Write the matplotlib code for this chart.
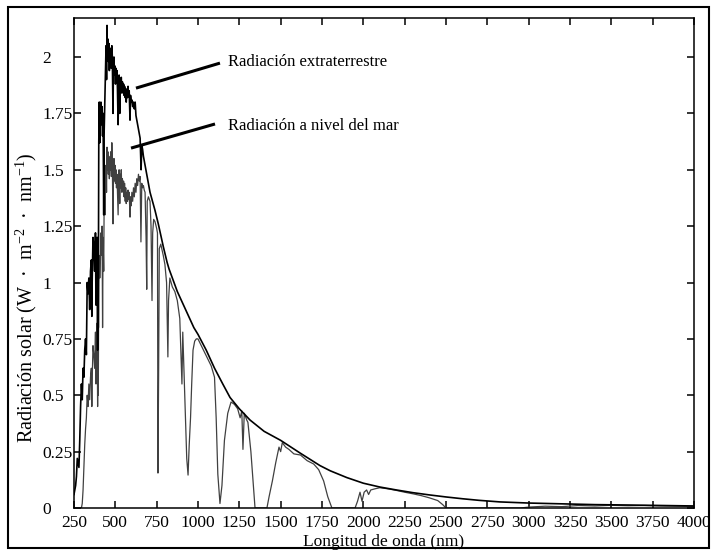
import numpy as np
import matplotlib.pyplot as plt
from matplotlib.patches import Rectangle

plt.rcParams['font.family'] = ['Liberation Serif', 'DejaVu Serif']
plt.rcParams['mathtext.fontset'] = 'custom'
plt.rcParams['mathtext.rm'] = 'Liberation Serif'

# Extraterrestrial spectrum
wl_ext = [250, 255, 260, 265, 270, 275, 280, 285, 290, 295, 300, 305, 310, 315, 320,
          325, 330, 335, 340, 345, 350, 355, 358, 360, 365, 370, 375, 380, 383, 385,
          390, 393, 395, 397, 400, 403, 406, 410, 413, 416, 420, 423, 426, 430, 432,
          435, 438, 441, 444, 447, 450, 452, 455, 458, 461, 464, 467, 470, 473, 476,
          479, 482, 486, 489, 492, 495, 498, 501, 504, 507, 510, 513, 517, 520, 523,
          527, 530, 533, 536, 540, 543, 546, 550, 553, 556, 560, 563, 566, 570, 574,
          577, 580, 584, 589, 592, 596, 600, 605, 610, 615, 620, 625, 630, 635, 640,
          645, 650, 656, 660, 665, 670, 675, 680, 690, 700, 710, 725, 740, 750, 760,
          775, 790, 800, 813, 825, 850, 875, 900, 925, 950, 975, 1000, 1050, 1100, 1150,
          1194, 1250, 1315, 1400, 1500, 1617, 1738, 1800, 1900, 2000, 2100, 2200, 2300,
          2400, 2500, 2600, 2700, 2826, 3000, 3232, 3400, 3631, 3800, 4000]
val_ext = [0.06, 0.08, 0.10, 0.14, 0.22, 0.20, 0.18, 0.30, 0.45, 0.55, 0.48, 0.62, 0.58, 0.70, 0.75,
           0.68, 1.00, 0.95, 1.02, 0.88, 1.05, 1.10, 0.85, 1.00, 1.20, 1.15, 1.05, 1.22, 0.90, 1.05,
           1.20, 0.70, 1.10, 0.80, 1.62, 1.80, 1.62, 1.72, 1.80, 1.70, 1.78, 1.65, 1.75, 1.30, 1.65,
           1.75, 1.85, 1.95, 2.05, 1.90, 2.14, 2.00, 2.08, 1.98, 2.06, 1.94, 2.04, 1.98, 2.03, 1.95,
           2.05, 2.00, 1.75, 1.98, 2.00, 1.92, 1.96, 1.88, 1.95, 1.90, 1.94, 1.86, 1.70, 1.88, 1.92,
           1.75, 1.90, 1.86, 1.91, 1.84, 1.89, 1.85, 1.88, 1.83, 1.87, 1.82, 1.86, 1.80, 1.85, 1.82,
           1.87, 1.83, 1.85, 1.72, 1.83, 1.80, 1.81, 1.78, 1.80, 1.77, 1.80, 1.74, 1.72, 1.70, 1.68,
           1.66, 1.64, 1.50, 1.61, 1.59, 1.56, 1.54, 1.52, 1.48, 1.44, 1.40, 1.36, 1.32, 1.29, 1.26,
           1.21, 1.16, 1.13, 1.09, 1.06, 1.01, 0.96, 0.92, 0.88, 0.84, 0.80, 0.77, 0.70, 0.62, 0.55,
           0.49, 0.44, 0.39, 0.34, 0.30, 0.244, 0.188, 0.165, 0.135, 0.11, 0.093, 0.08, 0.068,
           0.058, 0.049, 0.041, 0.034, 0.027, 0.022, 0.018, 0.015, 0.013, 0.011, 0.009]

# Sea level spectrum
wl_sea = [295, 300, 305, 310, 315, 320, 325, 330, 335, 340, 345, 350, 355, 358, 360,
          365, 370, 375, 380, 383, 385, 390, 393, 395, 397, 400, 403, 406, 410, 413,
          416, 420, 423, 426, 430, 432, 435, 438, 441, 444, 447, 450, 452, 455, 458,
          461, 464, 467, 470, 473, 476, 479, 482, 486, 489, 492, 495, 498, 501, 504,
          507, 510, 513, 517, 520, 523, 527, 530, 533, 536, 540, 543, 546, 550, 553,
          556, 560, 563, 566, 570, 574, 577, 580, 584, 589, 592, 596, 600, 605, 610,
          615, 620, 625, 630, 635, 640, 645, 650, 655, 660, 665, 670, 675, 680, 686,
          690, 693, 700, 710, 716, 722, 726, 732, 740, 750, 755, 758, 762, 766, 775,
          790, 800, 810, 818, 822, 830, 845, 860, 875, 890, 896, 903, 908, 915, 925,
          932, 940, 947, 955, 962, 970, 980, 990, 1000, 1020, 1040, 1060, 1080, 1100, 1110,
          1120, 1133, 1145, 1160, 1180, 1200, 1220, 1240, 1255, 1265, 1272, 1280, 1295, 1302, 1320,
          1335, 1345, 1417, 1430, 1450, 1470, 1490, 1500, 1510, 1530, 1550, 1580, 1620, 1660, 1700,
          1730, 1760, 1785, 1810, 1950, 1965, 1980, 1992, 2005, 2020, 2032, 2045, 2070, 2100, 2150,
          2200, 2250, 2300, 2350, 2400, 2450, 2480, 2500, 2950, 3000, 3100, 3200, 3300, 3400,
          3500, 3600, 3700, 3800, 3900, 4000]
val_sea = [0.0, 0.02, 0.08, 0.18, 0.28, 0.35, 0.40, 0.50, 0.45, 0.55, 0.48, 0.58, 0.62, 0.45, 0.56,
           0.72, 0.68, 0.62, 0.78, 0.55, 0.68, 0.82, 0.45, 0.75, 0.50, 1.00, 1.12, 1.02, 1.10, 1.22,
           1.12, 1.25, 0.80, 1.20, 1.05, 1.30, 1.38, 1.30, 1.45, 1.52, 1.40, 1.60, 1.50, 1.58, 1.48,
           1.56, 1.46, 1.55, 1.50, 1.58, 1.47, 1.62, 1.52, 1.26, 1.50, 1.55, 1.45, 1.52, 1.44, 1.50,
           1.42, 1.48, 1.40, 1.30, 1.45, 1.50, 1.35, 1.48, 1.42, 1.50, 1.40, 1.46, 1.41, 1.45, 1.38,
           1.44, 1.36, 1.42, 1.35, 1.40, 1.36, 1.41, 1.37, 1.40, 1.29, 1.38, 1.34, 1.40, 1.36, 1.42,
           1.38, 1.44, 1.40, 1.46, 1.43, 1.48, 1.45, 1.47, 1.18, 1.44, 1.42, 1.43, 1.41, 1.40, 1.20,
           0.97, 1.36, 1.38, 1.36, 1.25, 0.92, 1.22, 1.28, 1.27, 1.24, 1.22, 0.155, 0.60, 1.15, 1.17,
           1.12, 1.08, 1.00, 0.67, 0.92, 1.02, 0.98, 0.96, 0.92, 0.84, 0.70, 0.55, 0.78, 0.62, 0.40,
           0.22, 0.146, 0.28, 0.40, 0.55, 0.70, 0.74, 0.75, 0.75, 0.72, 0.69, 0.66, 0.63, 0.58, 0.40,
           0.15, 0.02, 0.10, 0.30, 0.42, 0.47, 0.46, 0.44, 0.40, 0.43, 0.26, 0.42, 0.39, 0.38, 0.25,
           0.10, 0.0, 0.0, 0.05, 0.12, 0.20, 0.27, 0.25, 0.29, 0.27, 0.26, 0.24, 0.235, 0.21, 0.195,
           0.17, 0.12, 0.05, 0.0, 0.0, 0.03, 0.07, 0.03, 0.07, 0.08, 0.06, 0.08, 0.085, 0.09, 0.085,
           0.078, 0.07, 0.063, 0.055, 0.045, 0.033, 0.015, 0.0, 0.0, 0.004, 0.008, 0.006, 0.011, 0.009,
           0.012, 0.010, 0.011, 0.009, 0.008, 0.007]

x_ticks = [250, 500, 750, 1000, 1250, 1500, 1750, 2000, 2250, 2500, 2750, 3000, 3250, 3500, 3750, 4000]
y_ticks = [0, 0.25, 0.5, 0.75, 1, 1.25, 1.5, 1.75, 2]
y_tick_labels = ['0', '0.25', '0.5', '0.75', '1', '1.25', '1.5', '1.75', '2']

fig = plt.figure(figsize=(7.14, 5.52), dpi=100)
ax = fig.add_axes([0.1036, 0.0797, 0.8684, 0.8877])

ax.plot(wl_sea, val_sea, color='#404040', lw=0.9)
ax.plot(wl_ext, val_ext, color='black', lw=1.2)

ax.set_xlim(250, 4000)
ax.set_ylim(0, 2.173)
ax.set_xticks(x_ticks)
ax.set_yticks(y_ticks)
ax.set_yticklabels(y_tick_labels, ha='left')
ax.tick_params(direction='in', length=5, width=1.1, top=True, right=True, labelsize=12.5, colors='black')
ax.tick_params(axis='y', pad=23)
ax.tick_params(axis='x', pad=5)
for s in ax.spines.values():
    s.set_linewidth(1.1)

ax.set_xlabel('Longitud de onda (nm)', fontsize=12.5, labelpad=2)
fig.text(0.036, 0.46, 'Radiación solar (W  ·  m$^{-2}$  ·  nm$^{-1}$)', rotation=90,
         ha='center', va='center', fontsize=14.5)

# annotation pointers
ax.plot([625, 1133], [1.862, 1.973], color='black', lw=2.2, solid_capstyle='butt')
ax.plot([595, 1103], [1.596, 1.703], color='black', lw=2.2, solid_capstyle='butt')
ax.text(1181, 1.978, 'Radiación extraterrestre', fontsize=12, va='center', ha='left')
ax.text(1181, 1.694, 'Radiación a nivel del mar', fontsize=12, va='center', ha='left')

fig.patches.append(Rectangle((0.0112, 0.0072), 0.982, 0.98, transform=fig.transFigure,
                             fill=False, edgecolor='black', lw=1.5))

fig.savefig('out.png', dpi=100)
